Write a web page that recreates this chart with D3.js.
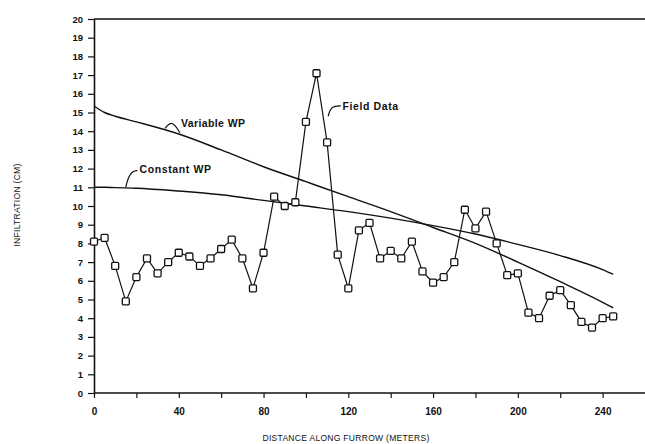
<!DOCTYPE html>
<html>
<head>
<meta charset="utf-8">
<script src="https://cdn.jsdelivr.net/npm/d3@7/dist/d3.min.js"></script>
<style>
  html, body { margin: 0; padding: 0; background: #fff; }
  svg { display: block; }
  text { font-family: "Liberation Sans", Arial, sans-serif; fill: #111; }
</style>
</head>
<body>
<svg id="chart" width="645" height="444"></svg>
<script>
// ---- data ----
const fieldDistance = [0,5,10,15,20,25,30,35,40,45,50,55,60,65,70,75,80,85,90,95,100,105,110,115,120,125,130,135,140,145,150,155,160,165,170,175,180,185,190,195,200,205,210,215,220,225,230,235,240,245];
const fieldInfiltration = [8.1,8.3,6.8,4.9,6.2,7.2,6.4,7.0,7.5,7.3,6.8,7.2,7.7,8.2,7.2,5.6,7.5,10.5,10.0,10.2,14.5,17.1,13.4,7.4,5.6,8.7,9.1,7.2,7.6,7.2,8.1,6.5,5.9,6.2,7.0,9.8,8.8,9.7,8.0,6.3,6.4,4.3,4.0,5.2,5.5,4.7,3.8,3.5,4.0,4.1];

const curveDistance = [0,5,10,20,40,60,80,100,120,140,160,180,200,220,240,245];
const variableWP = [15.35,15.0,14.8,14.5,13.85,13.0,12.1,11.3,10.5,9.7,8.85,8.0,7.0,5.95,4.85,4.55];
const constantWP = [11.0,11.0,10.98,10.95,10.8,10.6,10.3,10.0,9.7,9.35,8.95,8.5,7.95,7.35,6.6,6.35];

const xTicks = [0,20,40,60,80,100,120,140,160,180,200,220,240];
const xTickLabels = ["0","","40","","80","","120","","160","","200","","240"];
const yTicks = [0,1,2,3,4,5,6,7,8,9,10,11,12,13,14,15,16,17,18,19,20];

const xTitle = "DISTANCE ALONG FURROW (METERS)";
const yTitle = "INFILTRATION (CM)";

// ---- drawing ----
const svg = d3.select("#chart");
const x = d3.scaleLinear().domain([0, 260]).range([94, 645]);
const y = d3.scaleLinear().domain([0, 20]).range([393, 19]);

// top frame line
svg.append("line")
  .attr("x1", x(0)).attr("x2", 645)
  .attr("y1", y(20)).attr("y2", y(20))
  .attr("stroke", "#111").attr("stroke-width", 1.6);

// x axis
const xAxis = svg.append("g")
  .attr("transform", `translate(0,${y(0)})`)
  .call(d3.axisBottom(x).tickValues(xTicks)
    .tickFormat((d, i) => xTickLabels[i]).tickSize(5).tickSizeOuter(0));
xAxis.select(".domain").attr("stroke", "#111").attr("stroke-width", 1.6)
  .attr("d", `M${x(0)},0H645`);
xAxis.selectAll(".tick line").attr("stroke", "#111").attr("stroke-width", 1.2);
xAxis.selectAll(".tick text").attr("dy", "1.35em")
  .style("font-size", "10px").style("font-weight", "bold").attr("fill", "#111");

// y axis
const yAxis = svg.append("g")
  .attr("transform", `translate(${x(0)},0)`)
  .call(d3.axisLeft(y).tickValues(yTicks).tickFormat(d3.format("d"))
    .tickSize(6).tickSizeOuter(0));
yAxis.select(".domain").attr("stroke", "#111").attr("stroke-width", 1.6);
yAxis.selectAll(".tick line").attr("stroke", "#111").attr("stroke-width", 1.2);
yAxis.selectAll(".tick text").attr("x", -11)
  .style("font-size", "9.5px").style("font-weight", "bold").attr("fill", "#111");

// model curves
const curveLine = d3.line()
  .x((d, i) => x(curveDistance[i]))
  .y(d => y(d))
  .curve(d3.curveMonotoneX);

svg.append("path").datum(variableWP)
  .attr("d", curveLine).attr("fill", "none")
  .attr("stroke", "#111").attr("stroke-width", 1.4);
svg.append("path").datum(constantWP)
  .attr("d", curveLine).attr("fill", "none")
  .attr("stroke", "#111").attr("stroke-width", 1.4);

// field data
const fieldLine = d3.line()
  .x((d, i) => x(fieldDistance[i]))
  .y(d => y(d));
svg.append("path").datum(fieldInfiltration)
  .attr("d", fieldLine).attr("fill", "none")
  .attr("stroke", "#111").attr("stroke-width", 1.2);

svg.append("g").selectAll("rect")
  .data(fieldInfiltration)
  .join("rect")
  .attr("x", (d, i) => x(fieldDistance[i]) - 3.5)
  .attr("y", d => y(d) - 3.5)
  .attr("width", 7).attr("height", 7)
  .attr("rx", 1.2)
  .attr("fill", "#fff").attr("stroke", "#111").attr("stroke-width", 1.3);

// annotations with leader lines
function leader(pts) {
  svg.append("path")
    .attr("d", d3.line().curve(d3.curveBasis)(pts))
    .attr("fill", "none").attr("stroke", "#111").attr("stroke-width", 1.2);
}
leader([[x(40.5), y(13.92)], [x(38.5), y(14.3)], [x(36), y(14.5)], [x(33.5), y(14.15)]]);
svg.append("text").attr("x", x(41)).attr("y", y(14.4))
  .attr("dy", "0.35em").style("font-size", "10.5px").style("font-weight", "bold")
  .style("letter-spacing", "0.4px").text("Variable WP");

leader([[x(20.5), y(11.9)], [x(18), y(11.85)], [x(16), y(11.5)], [x(15), y(11.0)]]);
svg.append("text").attr("x", x(21.5)).attr("y", y(11.95))
  .attr("dy", "0.35em").style("font-size", "10.5px").style("font-weight", "bold")
  .style("letter-spacing", "0.6px").text("Constant WP");

leader([[x(116.5), y(15.35)], [x(113.5), y(15.35)], [x(111.5), y(15.2)], [x(110.5), y(14.8)]]);
svg.append("text").attr("x", x(117.3)).attr("y", y(15.35))
  .attr("dy", "0.35em").style("font-size", "10.5px").style("font-weight", "bold")
  .style("letter-spacing", "0.6px").text("Field Data");

// axis titles
svg.append("text").attr("x", 346).attr("y", 438)
  .attr("text-anchor", "middle").attr("dy", "0.35em")
  .style("font-size", "8.5px").style("letter-spacing", "0.3px")
  .text(xTitle);
svg.append("text")
  .attr("transform", "translate(17,205) rotate(-90)")
  .attr("text-anchor", "middle").attr("dy", "0.35em")
  .style("font-size", "8.5px").style("letter-spacing", "0.3px")
  .text(yTitle);
</script>
</body>
</html>
